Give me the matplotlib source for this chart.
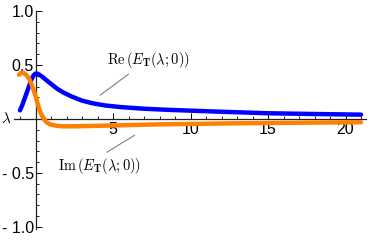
import matplotlib
matplotlib.use("Agg")
import matplotlib.pyplot as plt
from matplotlib.ticker import MultipleLocator

# Re(E_T(lambda;0))
re_x = [-1.0, -0.85, -0.7, -0.55, -0.4, -0.25, -0.12, 0.0, 0.12, 0.25, 0.45, 0.7, 1.0, 1.4, 1.8, 2.3,
        3.0, 3.7, 4.5, 5.5, 7.0, 8.5, 10.0, 12.0, 15.0, 18.0, 21.0]
re_y = [0.08, 0.13, 0.19, 0.25, 0.31, 0.37, 0.405, 0.42, 0.42, 0.41, 0.39, 0.36, 0.325, 0.28, 0.245, 0.21,
        0.17, 0.145, 0.125, 0.11, 0.095, 0.085, 0.077, 0.067, 0.053, 0.046, 0.04]

# Im(E_T(lambda;0))
im_x = [-1.06, -0.95, -0.82, -0.7, -0.55, -0.4, -0.25, -0.1, 0.05, 0.2, 0.35, 0.5, 0.7, 0.94, 1.3, 1.7,
        2.5, 3.5, 5.0, 6.5, 8.0, 10.0, 13.0, 16.0, 21.0]
im_y = [0.41, 0.425, 0.43, 0.42, 0.40, 0.37, 0.32, 0.26, 0.19, 0.11, 0.05, 0.01, -0.03, -0.05, -0.062, -0.068,
        -0.068, -0.065, -0.06, -0.055, -0.05, -0.046, -0.04, -0.036, -0.03]

yticks = [-1.0, -0.5, 0.5, 1.0]
ytick_labels = ["- 1.0", "- 0.5", "0.5", "1.0"]
xticks = [5, 10, 15, 20]

plt.rcParams["mathtext.fontset"] = "cm"
plt.rcParams["font.family"] = ["Liberation Sans", "DejaVu Sans"]

fig = plt.figure(figsize=(3.7, 2.4), dpi=100)
ax = fig.add_axes([0.0373, 0.0458, 0.951, 0.908])

ax.plot(re_x, re_y, color="#0000ff", lw=3.2, solid_capstyle="round", solid_joinstyle="round", zorder=3)
ax.plot(im_x, im_y, color="#ff8000", lw=3.2, solid_capstyle="round", solid_joinstyle="round", zorder=3)

ax.set_xlim(-1.4, 21.3)
ax.set_ylim(-1.02, 1.0)

for s in ["top", "right"]:
    ax.spines[s].set_visible(False)
ax.spines["left"].set_position(("data", 0))
ax.spines["bottom"].set_position(("data", 0))
ax.spines["left"].set_bounds(-1.02, 1.0)
for s in ["left", "bottom"]:
    ax.spines[s].set_linewidth(0.9)
    ax.spines[s].set_color("#222222")

ax.set_xticks(xticks)
ax.set_xticklabels([str(t) for t in xticks])
ax.xaxis.set_minor_locator(MultipleLocator(1))
ax.set_yticks(yticks)
ax.set_yticklabels(ytick_labels)
ax.yaxis.set_minor_locator(MultipleLocator(0.1))

ax.tick_params(axis="x", which="major", direction="in", length=4, width=0.7, labelsize=11.5, pad=2)
ax.tick_params(axis="x", which="minor", direction="in", length=2, width=0.6)
ax.tick_params(axis="y", which="major", direction="in", length=4, width=0.7, labelsize=11.5, pad=1)
ax.tick_params(axis="y", which="minor", direction="in", length=2, width=0.6)

ax.text(-1.55, 0, r"$\lambda$", ha="right", va="center", fontsize=11)

ax.annotate(r"$\mathrm{Re}\,(E_{\mathbf{T}}(\lambda;0))$", xy=(4.16, 0.22), xytext=(7.3, 0.55),
            fontsize=10.4, ha="center", va="center",
            arrowprops=dict(arrowstyle="-", color="gray", lw=0.8, shrinkA=2, shrinkB=0,
                            relpos=(0.33, 0)))
ax.annotate(r"$\mathrm{Im}\,(E_{\mathbf{T}}(\lambda;0))$", xy=(6.4, -0.15), xytext=(4.16, -0.44),
            fontsize=10.4, ha="center", va="center",
            arrowprops=dict(arrowstyle="-", color="gray", lw=0.8, shrinkA=2, shrinkB=0,
                            relpos=(0.5, 1)))

fig.savefig("out.png", dpi=100)
